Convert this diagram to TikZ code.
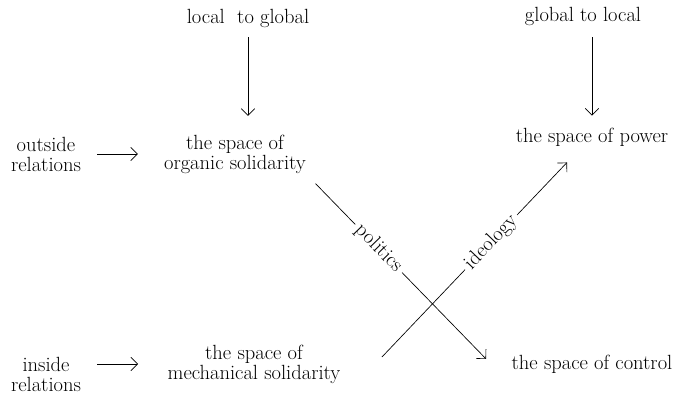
\documentclass[tikz,border=0pt]{standalone}
\usetikzlibrary{arrows.meta, positioning}
\begin{document}
\begin{tikzpicture}[x=0.75pt, y=-0.75pt,
  txt/.style={align=center, inner sep=0pt, font=\fontsize{15.4}{15}\selectfont},
  arr/.style={-{Straight Barb[length=5pt, width=10pt]}, line width=0.5pt},
  tag/.style={sloped, fill=white, inner sep=3pt, font=\fontsize{15.4}{15}\selectfont}]
  \useasboundingbox (0,0) rectangle (681,398);

  % Sources
  \node[txt] (l2g) at (248,18) {local\ \ to global};
  \node[txt] (g2l) at (583,16) {global to local};
  \node[txt] (outside) at (46,154) {outside\\relations};
  \node[txt] (inside) at (46,374) {inside\\relations};

  % Spaces
  \node[txt] (organic) at (235,154) {the space of\\organic solidarity};
  \node[txt] (mechanical) at (254,364) {the space of\\mechanical solidarity};
  \node[txt] (power) at (592,137) {the space of power};
  \node[txt] (control) at (592,364) {the space of control};

  % Arrows into the spaces
  \draw[arr, shorten <=7.5pt, shorten >=14pt] (l2g.south) -- (l2g.south |- organic.north);
  \draw[arr, shorten <=9pt, shorten >=9pt] (g2l.south -| power.north) -- (power.north);
  \draw[arr, shorten <=12pt, shorten >=19.5pt] (outside.east) -- (outside.east -| organic.west);
  \draw[arr, shorten <=12pt, shorten >=22pt] (inside.east |- mechanical.west) -- (mechanical.west);

  % Crossing
  \draw[arr] ([xshift=7pt, yshift=-7.5pt]organic.south east) -- node[tag, pos=0.37] {politics} ([xshift=-19pt, yshift=3.75pt]control.west);
  \draw[arr] ([xshift=31pt, yshift=5.25pt]mechanical.east) -- node[tag, pos=0.59] {ideology} ([xshift=-18.75pt, yshift=-12pt]power.south);
\end{tikzpicture}
\end{document}
